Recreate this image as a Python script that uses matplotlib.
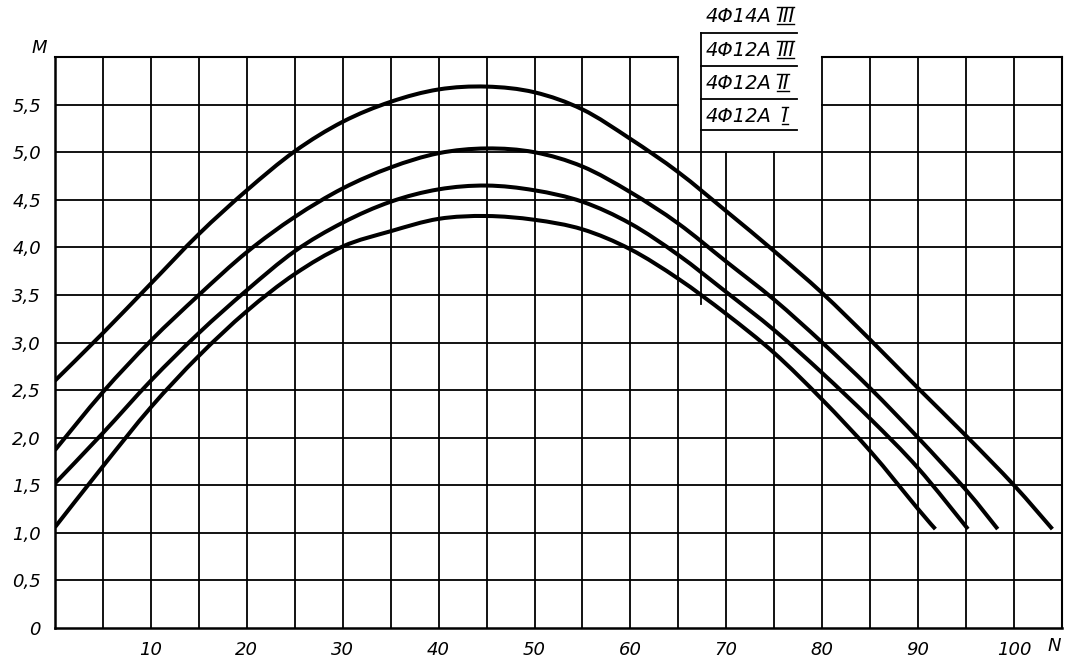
import matplotlib
matplotlib.use("Agg")
import matplotlib.pyplot as plt
from matplotlib.path import Path
from matplotlib.patches import PathPatch

plt.rcParams['font.family'] = ['DejaVu Sans']

# N values and M values
n_14_III = [0, 5, 10, 15, 20, 25, 30, 35, 40, 45, 50, 55, 60, 65, 70, 75, 80, 85, 90, 95, 100, 104.0]
m_14_III = [2.60, 3.10, 3.62, 4.14, 4.60, 5.01, 5.32, 5.53, 5.66, 5.69, 5.63, 5.45, 5.14, 4.79,
            4.38, 3.96, 3.52, 3.03, 2.52, 2.02, 1.50, 1.04]

n_12_III = [0, 5, 10, 15, 20, 25, 30, 35, 40, 45, 50, 55, 60, 65, 70, 75, 80, 85, 90, 95, 98.3]
m_12_III = [1.87, 2.48, 3.02, 3.50, 3.95, 4.32, 4.62, 4.84, 4.99, 5.04, 5.00, 4.85, 4.58, 4.25,
            3.85, 3.45, 3.00, 2.52, 2.00, 1.45, 1.04]

n_12_II = [0, 5, 10, 15, 20, 25, 30, 35, 40, 45, 50, 55, 60, 65, 70, 75, 80, 85, 90, 95.2]
m_12_II = [1.52, 2.05, 2.60, 3.10, 3.55, 3.96, 4.26, 4.48, 4.61, 4.65, 4.60, 4.48, 4.25, 3.92,
           3.53, 3.13, 2.68, 2.20, 1.68, 1.04]

n_12_I = [0, 5, 10, 15, 20, 25, 30, 35, 40, 45, 50, 55, 60, 65, 70, 75, 80, 85, 90, 91.8]
m_12_I = [1.06, 1.70, 2.32, 2.86, 3.33, 3.72, 4.01, 4.17, 4.30, 4.33, 4.29, 4.19, 3.98, 3.67,
          3.30, 2.89, 2.40, 1.86, 1.25, 1.04]

legend_main = ["4Φ14A", "4Φ12A", "4Φ12A", "4Φ12A"]
legend_class = ["III", "III", "II", "I"]

x_ticks = [10, 20, 30, 40, 50, 60, 70, 80, 90, 100]
y_ticks = [0, 0.5, 1.0, 1.5, 2.0, 2.5, 3.0, 3.5, 4.0, 4.5, 5.0, 5.5]
y_tick_labels = ["0", "0,5", "1,0", "1,5", "2,0", "2,5", "3,0", "3,5", "4,0", "4,5", "5,0", "5,5"]


def smooth_path(xs, ys):
    # smooth curve through the read points (Catmull-Rom as cubic Bezier)
    pts = list(zip(xs, ys))
    verts = [pts[0]]
    codes = [Path.MOVETO]
    for i in range(len(pts) - 1):
        p0 = pts[i - 1] if i > 0 else pts[i]
        p1 = pts[i]
        p2 = pts[i + 1]
        p3 = pts[i + 2] if i + 2 < len(pts) else pts[i + 1]
        c1 = (p1[0] + (p2[0] - p0[0]) / 6, p1[1] + (p2[1] - p0[1]) / 6)
        c2 = (p2[0] - (p3[0] - p1[0]) / 6, p2[1] - (p3[1] - p1[1]) / 6)
        verts += [c1, c2, p2]
        codes += [Path.CURVE4] * 3
    return Path(verts, codes)


fig = plt.figure(figsize=(10.7, 6.57), dpi=100)
ax = fig.add_axes([0.0514, 0.0441, 0.9411, 0.869])
ax.set_xlim(0, 105)
ax.set_ylim(0, 6)

txt = dict(fontsize=13, style='italic', color='black')
gkw = dict(color='black', lw=1.3, zorder=1)

# grid, left blank where the legend box sits (N 65..80, M above 5.0)
for x in range(5, 105, 5):
    top = 5.0 if 65 < x < 80 else 6.0
    ax.plot([x, x], [0, top], **gkw)
for y in y_ticks[1:]:
    if y > 5.0:
        ax.plot([0, 65], [y, y], **gkw)
        ax.plot([80, 105], [y, y], **gkw)
    else:
        ax.plot([0, 105], [y, y], **gkw)
ax.plot([0, 65], [6, 6], color='black', lw=1.5, clip_on=False)
ax.plot([80, 105], [6, 6], color='black', lw=1.5, clip_on=False)
ax.plot([105, 105], [0, 6], color='black', lw=1.5, clip_on=False)

for sp in ['top', 'right']:
    ax.spines[sp].set_visible(False)
for sp in ['left', 'bottom']:
    ax.spines[sp].set_linewidth(1.8)

# curves
for n, m in [(n_14_III, m_14_III), (n_12_III, m_12_III), (n_12_II, m_12_II), (n_12_I, m_12_I)]:
    ax.add_patch(PathPatch(smooth_path(n, m), facecolor='none', edgecolor='black', lw=2.9,
                           capstyle='butt', joinstyle='round', zorder=3))

# legend box
ax.plot([67.4, 67.4], [3.4, 6.25], color='black', lw=1.3, clip_on=False)
for y in [6.25, 5.91, 5.56, 5.23]:
    ax.plot([67.4, 77.4], [y, y], color='black', lw=1.3, clip_on=False)

label_y = [6.37, 6.01, 5.66, 5.32]
fig.canvas.draw()
rend = fig.canvas.get_renderer()
inv = ax.transData.inverted()
for main, cls, y in zip(legend_main, legend_class, label_y):
    ax.text(67.8, y, main, ha='left', va='baseline', clip_on=False, fontsize=14,
            style='italic', color='black')
    t = ax.text(75.3 if cls != "I" else 75.8, y, cls, ha='left', va='baseline', clip_on=False,
                fontsize=14, style='italic', color='black')
    bb = t.get_window_extent(renderer=rend)
    (x0, _), (x1, _) = inv.transform([(bb.x0, bb.y0), (bb.x1, bb.y1)])
    ax.plot([x0, x1], [y - 0.02, y - 0.02], color='black', lw=1.0, clip_on=False)
    ax.plot([x0, x1], [y + 0.16, y + 0.16], color='black', lw=1.0, clip_on=False)

# ticks
ax.set_xticks(x_ticks)
ax.set_xticklabels([str(v) for v in x_ticks], **txt)
ax.set_yticks(y_ticks)
ax.set_yticklabels(y_tick_labels, **txt)
ax.tick_params(length=0, pad=9)
ax.tick_params(axis='y', pad=10)

ax.text(-1.6, 6.1, "M", ha='center', va='center', clip_on=False, **txt)
ax.text(104.2, -0.19, "N", ha='center', va='center', clip_on=False, **txt)

fig.savefig("out.png", dpi=100, facecolor='white')
